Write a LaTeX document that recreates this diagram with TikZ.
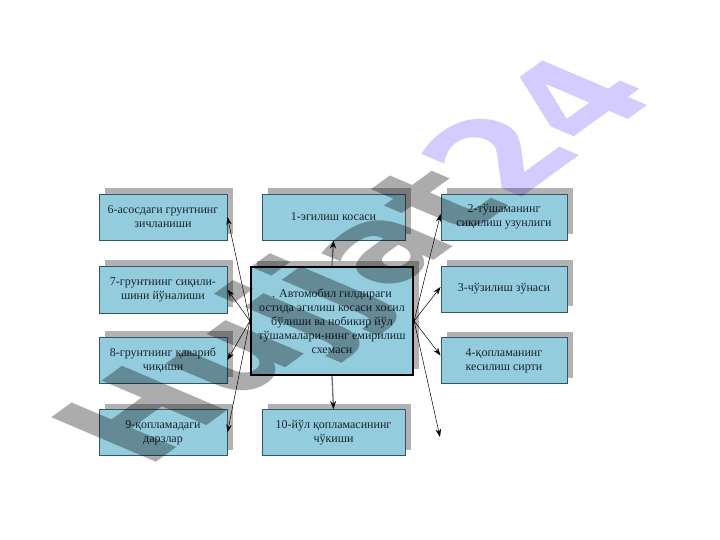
\documentclass[tikz,border=0pt]{standalone}
\usepackage{fontspec}
\setmainfont{Liberation Serif}
\newfontfamily\wmfont{DejaVu Sans}
\usetikzlibrary{arrows.meta,shadows}
\definecolor{boxfill}{RGB}{147,205,221}
\definecolor{boxline}{RGB}{52,84,104}
\definecolor{shadowgray}{RGB}{178,178,178}
\definecolor{txt}{RGB}{25,35,45}
\definecolor{wmgray}{RGB}{172,172,172}
\definecolor{wmpurple}{RGB}{212,204,255}
\tikzset{
  box/.style={draw=boxline, line width=0.9pt, fill=boxfill, minimum height=46pt,
    align=center, inner sep=0pt, text=txt, font=\fontsize{12}{14}\selectfont,
    drop shadow={shadow xshift=6pt, shadow yshift=6pt, fill=shadowgray, opacity=1}},
  sbox/.style={box, minimum width=128pt},
  wbox/.style={box, minimum width=143pt},
  rbox/.style={box, minimum width=126pt},
  cbox/.style={box, draw=black, line width=2.2pt, minimum width=162pt, minimum height=108pt},
  conn/.style={-{Stealth[length=8pt,width=5.5pt]}, line width=0.5pt, draw=black},
  vconn/.style={-{Stealth[length=8pt,width=6pt,color=black]}, line width=1.3pt, draw=black!55},
  wmark/.style={inner sep=0pt, font=\wmfont\bfseries\fontsize{134}{134}\selectfont},
}
\begin{document}
\begin{tikzpicture}[x=1pt,y=-1pt]
\useasboundingbox (0,0) rectangle (720,540);
% boxes
\node[sbox] (b6) at (163,217) {6-асосдаги грунтнинг\\зичланиши};
\node[wbox] (b1) at (333.5,217) {\raisebox{-5pt}{1-эгилиш косаси}};
\node[rbox] (b2) at (504,217) {2-тўшаманинг\\сиқилиш узунлиги};
\node[sbox, minimum height=47pt] (b7) at (163,289.5) {7-грунтнинг сиқили-\\шини йўналиши};
\node[rbox] (b3) at (504,289) {\raisebox{-4pt}{3-чўзилиш зўнаси}};
\node[sbox] (b8) at (163,360) {8-грунтнинг қавариб\\чиқиши};
\node[rbox] (b4) at (504,360.5) {4-қопламанинг\\кесилиш сирти};
\node[sbox] (b9) at (163,432.5) {9-қопламадаги\\дарзлар};
\node[wbox] (b10) at (333.5,432.5) {10-йўл қопламасининг\\чўкиши};
\node[cbox] (c) at (332,321) {. Автомобил гилдираги\\остида эгилиш косаси хосил\\бўлиши ва нобикир йўл\\тўшамалари-нинг емирилиш\\схемаси};
\coordinate (fr) at (440,437);
% connectors
\draw[vconn] (c.north) -- (b1.south);
\draw[vconn] (c.south) -- (b10.north);
\draw[conn] (c.west) -- (b6.east);
\draw[conn] (c.west) -- (b7.east);
\draw[conn] (c.west) -- (b8.east);
\draw[conn] (c.west) -- (b9.east);
\draw[conn] (c.east) -- ([yshift=3pt]b2.west);
\draw[conn] (c.east) -- ([yshift=2pt]b3.west);
\draw[conn] (c.east) -- ([yshift=5pt]b4.west);
\draw[conn] (c.east) -- (fr);
% watermark
\begin{scope}[blend mode=multiply]
\node[wmark, rotate=36, xslant=-0.6] (wm) at (366,265)
  {\textcolor{wmgray}{Hujjat}\textcolor{wmpurple}{24}};
\end{scope}
\end{tikzpicture}
\end{document}
